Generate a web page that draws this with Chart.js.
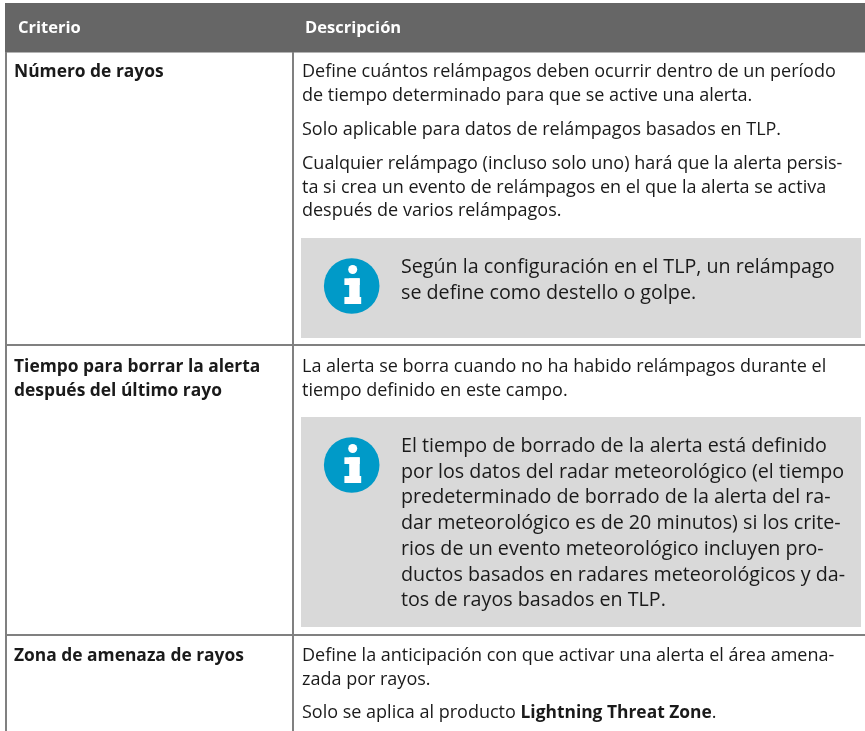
<!DOCTYPE html>
<html>
<head>
<meta charset="utf-8">
<style>
  html, body { margin: 0; padding: 0; background: #fff; }
  #wrap { position: relative; width: 865px; height: 731px; }
</style>
<script src="https://cdn.jsdelivr.net/npm/chart.js@4"></script>
</head>
<body>
<div id="wrap"><canvas id="myChart" width="865" height="731"></canvas></div>
<script>
// the picture is a table with no numeric series, so the values here are its texts
var headers = ["Criterio", "Descripción"];
var criteria = [
  ["Número de rayos"],
  ["Tiempo para borrar la alerta", "después del último rayo"],
  ["Zona de amenaza de rayos"]
];
var row1Text = [
  "Define cuántos relámpagos deben ocurrir dentro de un período",
  "de tiempo determinado para que se active una alerta.",
  "Solo aplicable para datos de relámpagos basados en TLP.",
  "Cualquier relámpago (incluso solo uno) hará que la alerta persis-",
  "ta si crea un evento de relámpagos en el que la alerta se activa",
  "después de varios relámpagos."
];
var row1Note = [
  "Según la configuración en el TLP, un relámpago",
  "se define como destello o golpe."
];
var row2Text = [
  "La alerta se borra cuando no ha habido relámpagos durante el",
  "tiempo definido en este campo."
];
var row2Note = [
  "El tiempo de borrado de la alerta está definido",
  "por los datos del radar meteorológico (el tiempo",
  "predeterminado de borrado de la alerta del ra-",
  "dar meteorológico es de 20 minutos) si los crite-",
  "rios de un evento meteorológico incluyen pro-",
  "ductos basados en radares meteorológicos y da-",
  "tos de rayos basados en TLP."
];
var row3Text = [
  "Define la anticipación con que activar una alerta el área amena-",
  "zada por rayos."
];
var row3Last = ["Solo se aplica al producto ", "Lightning Threat Zone", "."];

var FONT = '"Open Sans", sans-serif';
var textFont = "18px " + FONT;
var noteFont = "19.7px " + FONT;
var boldFont = "bold 17.4px " + FONT;
var headFont = "bold 16.5px " + FONT;
var textColor = "#1a1a1a";

var tablePlugin = {
  id: "tablePlugin",
  afterDraw: function(chart) {
    var c = chart.ctx;
    var sx = chart.scales.x;
    var sy = chart.scales.y;
    var px = function(v) { return sx.getPixelForValue(v); };
    var py = function(v) { return sy.getPixelForValue(v); };

    var rect = function(x0, y0, x1, y1, color) {
      c.fillStyle = color;
      c.fillRect(px(x0), py(y0), px(x1) - px(x0), py(y1) - py(y0));
    };
    var lines = function(list, x, y, step, font) {
      c.font = font;
      c.fillStyle = textColor;
      list.forEach(function(t, i) {
        c.fillText(t, px(x), py(y + i * step));
      });
    };
    var infoIcon = function(cx, cy) {
      c.fillStyle = "#009ac8";
      c.beginPath();
      c.arc(px(cx), py(cy), 27.8, 0, Math.PI * 2);
      c.fill();
      c.fillStyle = "#fff";
      c.beginPath();
      c.arc(px(cx + 1), py(cy - 16.5), 4.5, 0, Math.PI * 2);
      c.fill();
      rect(cx - 7.3, cy - 7.7, cx + 8, cy - 1, "#fff");
      rect(cx - 2.5, cy - 7.7, cx + 8, cy + 12, "#fff");
      rect(cx - 7.3, cy + 11, cx + 9.5, cy + 18, "#fff");
    };

    c.save();
    c.textBaseline = "alphabetic";

    // note boxes
    rect(301, 238, 861, 338, "#d9d9d9");
    rect(301, 417, 861, 627, "#d9d9d9");
    infoIcon(351.7, 286);
    infoIcon(351.7, 465);

    // grid
    var lineColor = "#808080";
    rect(5, 52, 7, 731, lineColor);
    rect(292, 3, 294, 731, lineColor);
    rect(5, 344, 865, 346, lineColor);
    rect(5, 634, 865, 636, lineColor);

    // header
    rect(5, 3, 865, 52, "#666666");
    rect(5, 52, 865, 53, "#b3b3b3");
    rect(5, 52, 7, 53, lineColor);
    rect(292, 52, 294, 53, lineColor);
    c.font = headFont;
    c.fillStyle = "#fff";
    c.fillText(headers[0], px(18), py(32.5));
    c.fillText(headers[1], px(305), py(32.5));

    // criteria column
    lines(criteria[0], 14, 77, 23.5, boldFont);
    lines(criteria[1], 14, 372, 23.5, boldFont);
    lines(criteria[2], 14, 661, 23.5, boldFont);

    // description column
    lines(row1Text.slice(0, 2), 302, 77, 23.7, textFont);
    lines(row1Text.slice(2, 3), 302, 135, 23.7, textFont);
    lines(row1Text.slice(3), 302, 169, 23.7, textFont);
    lines(row1Note, 401, 273, 25.7, noteFont);
    lines(row2Text, 302, 372, 23.7, textFont);
    lines(row2Note, 401, 452, 25.7, noteFont);
    lines(row3Text, 302, 661, 23.7, textFont);

    // last line mixes regular and bold runs
    var x = 302;
    row3Last.forEach(function(t, i) {
      c.font = i === 1 ? boldFont : textFont;
      c.fillStyle = textColor;
      c.fillText(t, px(x), py(718));
      x += c.measureText(t).width;
    });
    c.restore();
  }
};

var myChart = new Chart(document.getElementById("myChart"), {
  type: "scatter",
  data: { datasets: [{ data: [] }] },
  options: {
    responsive: false,
    animation: false,
    layout: { padding: 0 },
    plugins: { legend: { display: false }, tooltip: { enabled: false } },
    scales: {
      x: { type: "linear", min: 0, max: 865, display: false },
      y: { type: "linear", min: 0, max: 731, reverse: true, display: false }
    }
  },
  plugins: [tablePlugin]
});
</script>
</body>
</html>
